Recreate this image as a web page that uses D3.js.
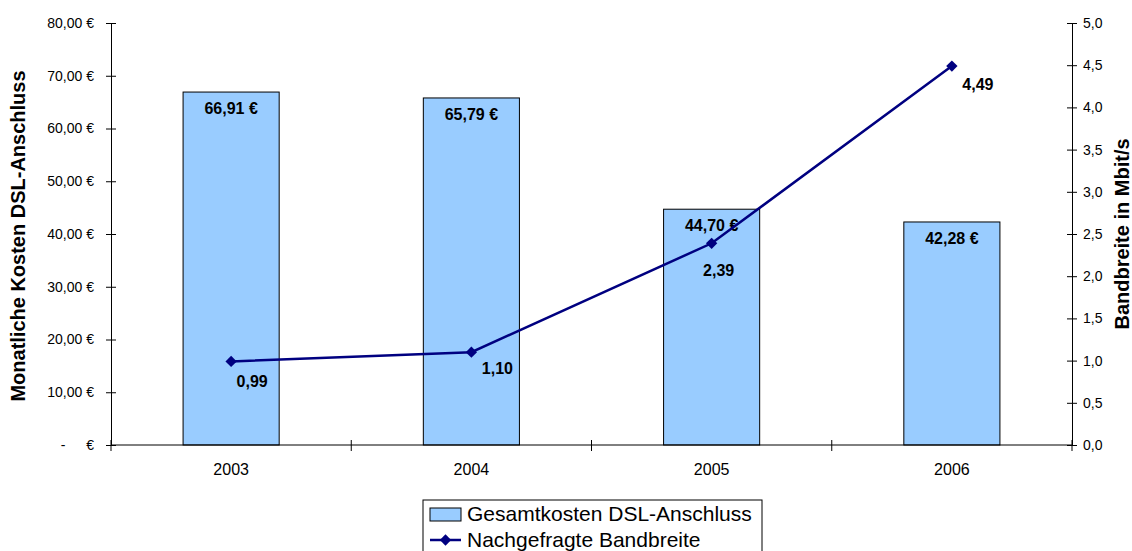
<!DOCTYPE html>
<html>
<head>
<meta charset="utf-8">
<script src="https://cdn.jsdelivr.net/npm/d3@7"></script>
<style>
  body { margin: 0; background: #fff; }
  svg { font-family: "Liberation Sans", Arial, sans-serif; }
</style>
</head>
<body>
<div id="chart"></div>
<script>
// Chart data
const years = ['2003', '2004', '2005', '2006'];
const costs = [66.91, 65.79, 44.70, 42.28];        // Gesamtkosten DSL-Anschluss (€)
const bandwidth = [0.99, 1.10, 2.39, 4.49];        // Nachgefragte Bandbreite (Mbit/s)
const costTicks = [0, 10, 20, 30, 40, 50, 60, 70, 80];
const bwTicks = [0, 0.5, 1, 1.5, 2, 2.5, 3, 3.5, 4, 4.5, 5];
const seriesNames = ['Gesamtkosten DSL-Anschluss', 'Nachgefragte Bandbreite'];

// label placement for the line values (dx, dy from the marker)
const lineLabelShift = [[21, 20], [26, 16], [7, 27], [26, 18]];

const width = 1132, height = 551;
const plot = { left: 111, right: 1072, top: 23, bottom: 445 };

const de = d3.formatLocale({ decimal: ',', thousands: '.', grouping: [3], currency: ['', ' €'] });
const fmtCost = de.format(',.2f');
const fmtBw1 = de.format('.1f');
const fmtBw2 = de.format('.2f');

const svg = d3.select('#chart').append('svg')
    .attr('width', width)
    .attr('height', height);

// Scales
const x = d3.scaleBand()
    .domain(years)
    .range([plot.left, plot.right])
    .paddingInner(0.6)
    .paddingOuter(0.3);
const yL = d3.scaleLinear().domain([0, 80]).range([plot.bottom, plot.top]);
const yR = d3.scaleLinear().domain([0, 5]).range([plot.bottom, plot.top]);

// Bars
svg.append('g')
    .selectAll('rect')
    .data(costs)
    .join('rect')
    .attr('x', (d, i) => x(years[i]))
    .attr('y', d => yL(d))
    .attr('width', x.bandwidth())
    .attr('height', d => yL(0) - yL(d))
    .attr('fill', '#99ccff')
    .attr('stroke', '#000')
    .attr('stroke-width', 1);

// Left axis
const leftAxis = svg.append('g')
    .attr('transform', `translate(${plot.left},0)`)
    .call(d3.axisLeft(yL).tickValues(costTicks).tickSizeOuter(0).tickSize(5).tickPadding(12)
        .tickFormat(d => d === 0 ? '€' : fmtCost(d) + ' €'));
leftAxis.selectAll('.tick line').attr('x1', -5).attr('x2', 5);
leftAxis.selectAll('.tick text').attr('font-size', 14).attr('fill', '#000');
leftAxis.selectAll('.tick').filter(d => d === 0)
    .append('text')
    .attr('x', -48)
    .attr('dy', '0.32em')
    .attr('text-anchor', 'middle')
    .attr('font-size', 14)
    .attr('fill', '#000')
    .text('-');
leftAxis.attr('font-family', null);

// Right axis
const rightAxis = svg.append('g')
    .attr('transform', `translate(${plot.right},0)`)
    .call(d3.axisRight(yR).tickValues(bwTicks).tickSizeOuter(0).tickSize(5).tickPadding(6)
        .tickFormat(fmtBw1));
rightAxis.selectAll('.tick line').attr('x1', -5).attr('x2', 5);
rightAxis.selectAll('.tick text').attr('font-size', 14).attr('fill', '#000');
rightAxis.attr('font-family', null);

// Bottom axis: labels at band centres, ticks at category borders
const bottomAxis = svg.append('g')
    .attr('transform', `translate(0,${plot.bottom})`)
    .call(d3.axisBottom(x).tickSize(0).tickPadding(19).tickSizeOuter(0));
bottomAxis.select('.domain').attr('d', `M${plot.left},0H${plot.right}`);
bottomAxis.selectAll('.tick text').attr('font-size', 16).attr('fill', '#000');
bottomAxis.attr('font-family', null);
bottomAxis.selectAll('.border')
    .data(d3.range(years.length + 1))
    .join('line')
    .attr('class', 'border')
    .attr('x1', i => plot.left + i * x.step())
    .attr('x2', i => plot.left + i * x.step())
    .attr('y1', -5)
    .attr('y2', 6)
    .attr('stroke', '#000');

// Bar value labels
svg.append('g')
    .selectAll('text')
    .data(costs)
    .join('text')
    .attr('x', (d, i) => x(years[i]) + x.bandwidth() / 2)
    .attr('y', d => yL(d) + 22)
    .attr('text-anchor', 'middle')
    .attr('font-size', 16)
    .attr('font-weight', 'bold')
    .text(d => fmtCost(d) + ' €');

// Bandwidth line
const cx = i => x(years[i]) + x.bandwidth() / 2;
const line = d3.line()
    .x((d, i) => cx(i))
    .y(d => yR(d));

svg.append('path')
    .datum(bandwidth)
    .attr('d', line)
    .attr('fill', 'none')
    .attr('stroke', '#000080')
    .attr('stroke-width', 2.5);

svg.append('g')
    .selectAll('path')
    .data(bandwidth)
    .join('path')
    .attr('d', d3.symbol(d3.symbolSquare, 64))
    .attr('transform', (d, i) => `translate(${cx(i)},${yR(d)}) rotate(45)`)
    .attr('fill', '#000080');

svg.append('g')
    .selectAll('text')
    .data(bandwidth)
    .join('text')
    .attr('x', (d, i) => cx(i) + lineLabelShift[i][0])
    .attr('y', (d, i) => yR(d) + lineLabelShift[i][1])
    .attr('dy', '0.35em')
    .attr('text-anchor', 'middle')
    .attr('font-size', 16)
    .attr('font-weight', 'bold')
    .text(d => fmtBw2(d));

// Axis titles
svg.append('text')
    .attr('transform', `translate(25,${(plot.top + plot.bottom) / 2 + 2}) rotate(-90)`)
    .attr('text-anchor', 'middle')
    .attr('font-size', 20)
    .attr('font-weight', 'bold')
    .text('Monatliche Kosten DSL-Anschluss');

svg.append('text')
    .attr('transform', `translate(1129,${(plot.top + plot.bottom) / 2}) rotate(-90)`)
    .attr('text-anchor', 'middle')
    .attr('font-size', 20)
    .attr('font-weight', 'bold')
    .text('Bandbreite in Mbit/s');

// Legend
const legend = svg.append('g').attr('transform', 'translate(423,500)');
legend.append('rect')
    .attr('width', 339)
    .attr('height', 70)
    .attr('fill', '#fff')
    .attr('stroke', '#000');
legend.append('rect')
    .attr('x', 7).attr('y', 8)
    .attr('width', 31).attr('height', 13)
    .attr('fill', '#99ccff')
    .attr('stroke', '#000');
legend.append('line')
    .attr('x1', 7).attr('x2', 38)
    .attr('y1', 40).attr('y2', 40)
    .attr('stroke', '#000080')
    .attr('stroke-width', 2.5);
legend.append('path')
    .attr('d', d3.symbol(d3.symbolSquare, 64))
    .attr('transform', 'translate(22.5,40) rotate(45)')
    .attr('fill', '#000080');
legend.selectAll('.label')
    .data(seriesNames)
    .join('text')
    .attr('class', 'label')
    .attr('x', 44)
    .attr('y', (d, i) => 14 + i * 26)
    .attr('dy', '0.35em')
    .attr('font-size', 21)
    .text(d => d);
</script>
</body>
</html>
